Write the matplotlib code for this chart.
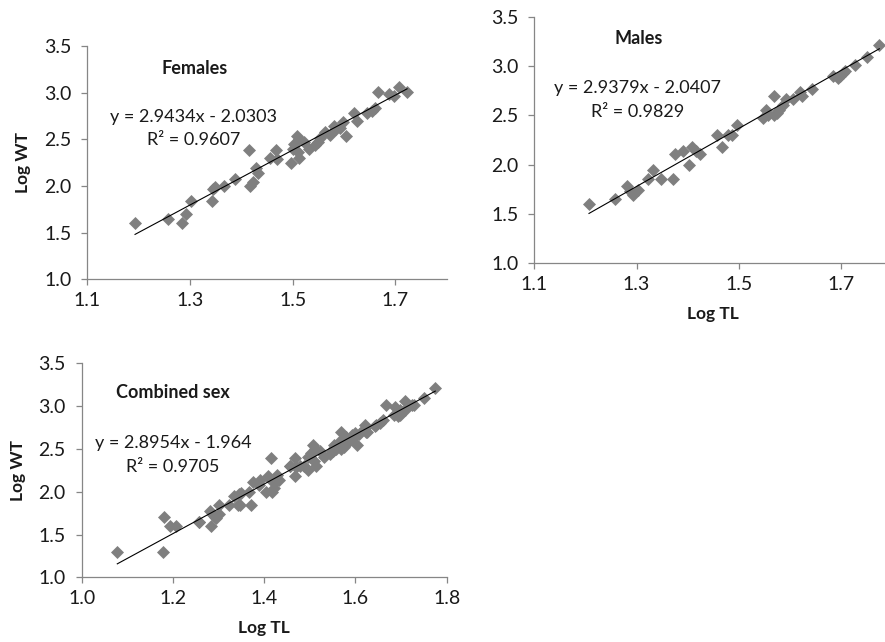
import matplotlib.pyplot as plt

# length-weight data (log10 total length vs log10 weight)
females_tl = [1.193, 1.257, 1.284, 1.292, 1.302, 1.343, 1.345, 1.349, 1.366, 1.388,
              1.416, 1.417, 1.422, 1.428, 1.432, 1.456, 1.467, 1.470, 1.497, 1.500,
              1.503, 1.508, 1.512, 1.510, 1.513, 1.532, 1.544, 1.550, 1.554, 1.563,
              1.573, 1.580, 1.593, 1.599, 1.604, 1.620, 1.625, 1.644, 1.654, 1.661,
              1.667, 1.687, 1.697, 1.708, 1.723, 1.522, 1.585]
females_wt = [1.60, 1.65, 1.60, 1.70, 1.84, 1.84, 1.97, 1.99, 2.00, 2.08,
              2.39, 2.00, 2.04, 2.19, 2.14, 2.30, 2.39, 2.29, 2.25, 2.40,
              2.45, 2.54, 2.50, 2.36, 2.30, 2.40, 2.44, 2.47, 2.51, 2.58,
              2.55, 2.64, 2.62, 2.69, 2.54, 2.78, 2.70, 2.78, 2.80, 2.84,
              3.01, 2.99, 2.96, 3.06, 3.01, 2.47, 2.61]

males_tl = [1.207, 1.258, 1.281, 1.287, 1.294, 1.302, 1.322, 1.333, 1.348, 1.372,
            1.375, 1.390, 1.403, 1.409, 1.416, 1.424, 1.457, 1.467, 1.478, 1.487,
            1.496, 1.548, 1.553, 1.558, 1.568, 1.568, 1.574, 1.578, 1.587, 1.592,
            1.607, 1.620, 1.623, 1.643, 1.685, 1.694, 1.698, 1.703, 1.708, 1.728,
            1.750, 1.775]
males_wt = [1.60, 1.65, 1.78, 1.73, 1.69, 1.74, 1.85, 1.95, 1.85, 1.85,
            2.11, 2.14, 2.00, 2.18, 2.14, 2.11, 2.30, 2.18, 2.30, 2.30,
            2.40, 2.47, 2.55, 2.50, 2.70, 2.50, 2.52, 2.55, 2.60, 2.66,
            2.67, 2.74, 2.70, 2.77, 2.90, 2.88, 2.90, 2.93, 2.95, 3.01,
            3.09, 3.21]

# unsexed fish only appear in the combined panel
unsexed_tl = [1.078, 1.178, 1.180]
unsexed_wt = [1.30, 1.30, 1.70]

# trendline coefficients (slope, intercept, R^2)
fit_females = (2.9434, -2.0303, 0.9607)
fit_males = (2.9379, -2.0407, 0.9829)
fit_combined = (2.8954, -1.964, 0.9705)

FONT = "Lato"
GREY = "#7f7f7f"
AXIS = "#868686"
TEXT = "#1a1a1a"


def panel(fig, rect, tl, wt, fit, eq_text, title, title_xy, eq_xy, r2_xy,
          xlim, xticks, ylabel=True, xlabel=True):
    ax = fig.add_axes(rect)
    ax.scatter(tl, wt, marker="D", s=44, color=GREY, linewidths=0, zorder=2)
    slope, icpt, r2 = fit
    x0, x1 = min(tl), max(tl)
    ax.plot([x0, x1], [slope * x0 + icpt, slope * x1 + icpt],
            color="black", lw=0.8, zorder=3)
    ax.set_xlim(*xlim)
    ax.set_ylim(1.0, 3.5)
    ax.set_xticks(xticks)
    ax.set_xticklabels([f"{v:.1f}" for v in xticks])
    yt = [1.0, 1.5, 2.0, 2.5, 3.0, 3.5]
    ax.set_yticks(yt)
    ax.set_yticklabels([f"{v:.1f}" for v in yt])
    for s in ("top", "right"):
        ax.spines[s].set_visible(False)
    for s in ("left", "bottom"):
        ax.spines[s].set_color(AXIS)
        ax.spines[s].set_linewidth(0.9)
    ax.tick_params(axis="both", direction="out", length=4.5, width=0.9,
                   color=AXIS, labelsize=14, labelcolor=TEXT)
    ax.tick_params(axis="y", pad=7)
    ax.tick_params(axis="x", pad=5)
    for lab in ax.get_xticklabels() + ax.get_yticklabels():
        lab.set_fontfamily(FONT)
    ax.patch.set_alpha(0)
    if ylabel:
        ax.set_ylabel("Log WT", fontfamily=FONT, fontweight="bold",
                      fontsize=12.5, color=TEXT, labelpad=9)
    if xlabel:
        ax.set_xlabel("Log TL", fontfamily=FONT, fontweight="bold",
                      fontsize=12.5, color=TEXT, labelpad=9)
    # annotations in figure pixel coords (origin top-left)
    W, H = 885, 642
    fig.text(title_xy[0] / W, 1 - title_xy[1] / H, title, ha="center",
             va="center", fontfamily=FONT, fontweight="bold", fontsize=13,
             color=TEXT)
    fig.text(eq_xy[0] / W, 1 - eq_xy[1] / H, eq_text, ha="center",
             va="center", fontfamily=FONT, fontsize=13, color=TEXT)
    fig.text(r2_xy[0] / W, 1 - r2_xy[1] / H, f"R\u00b2 = {r2:.4f}",
             ha="center", va="center", fontfamily=FONT, fontsize=13,
             color=TEXT)
    return ax


fig = plt.figure(figsize=(8.85, 6.42), dpi=100)

panel(fig, [87.3 / 885, 1 - 279.3 / 642, 359.3 / 885, 233.3 / 642],
      females_tl, females_wt, fit_females, "y = 2.9434x - 2.0303",
      "Females", (195, 68), (194, 117), (194, 140),
      (1.1, 1.8), [1.1, 1.3, 1.5, 1.7], ylabel=True, xlabel=False)

panel(fig, [534.3 / 885, 1 - 263.3 / 642, 357.8 / 885, 246.7 / 642],
      males_tl, males_wt, fit_males, "y = 2.9379x - 2.0407",
      "Males", (639, 38), (638, 88), (638, 112),
      (1.1, 1.8), [1.1, 1.3, 1.5, 1.7], ylabel=False, xlabel=True)

panel(fig, [81.7 / 885, 1 - 577.3 / 642, 365 / 885, 214 / 642],
      females_tl + males_tl + unsexed_tl, females_wt + males_wt + unsexed_wt,
      fit_combined, "y = 2.8954x - 1.964",
      "Combined sex", (173, 392), (173, 443), (173, 467),
      (1.0, 1.8), [1.0, 1.2, 1.4, 1.6, 1.8], ylabel=True, xlabel=True)

fig.savefig("out.png", dpi=100, facecolor="white")
